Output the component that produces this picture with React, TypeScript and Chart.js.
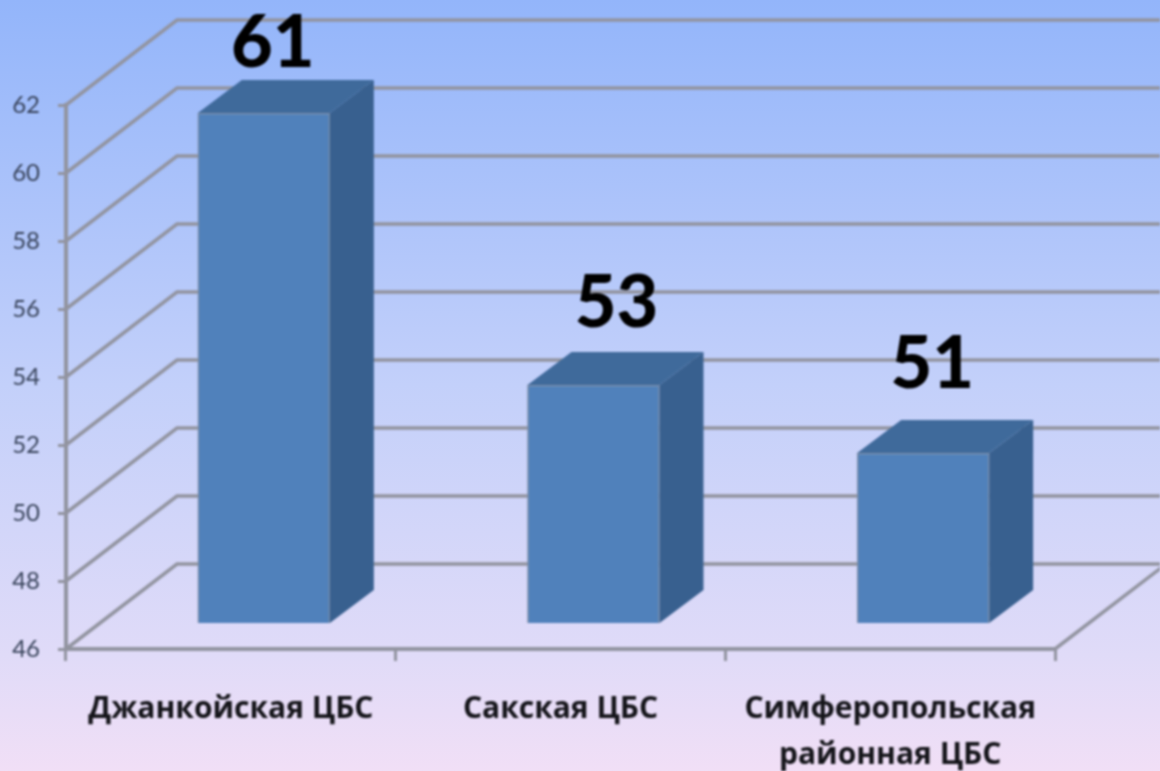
import React, { useEffect, useRef } from "react";
import { Chart, registerables } from "chart.js";

Chart.register(...registerables);

const categories: (string | string[])[] = [
  "Джанкойская ЦБС",
  "Сакская ЦБС",
  ["Симферопольская", "районная ЦБС"],
];
const values = [61, 53, 51];
const yMin = 46;
const yMax = 62;
const yStep = 2;

const labelNudgeX = [42, 56, 42];
const labelNudgeY = [-72, -84, -91];

const GRID = "#9294a0";
const BACK_DX = 111;
const BACK_DY = -85;
const BAR_DX = 33;
const BAR_DY = -26;
const SIDE_DX = 44;
const SIDE_DY = -33;

const threeD = {
  id: "threeD",
  beforeDatasetsDraw(chart: any) {
    const { ctx, chartArea, scales } = chart;
    const y = scales.y;
    ctx.save();
    ctx.lineCap = "round";
    ctx.strokeStyle = GRID;
    ctx.lineWidth = 3.5;
    y.ticks.forEach((t: any) => {
      const py = y.getPixelForValue(t.value);
      ctx.beginPath();
      ctx.moveTo(chartArea.left, py);
      ctx.lineTo(chartArea.left + BACK_DX, py + BACK_DY);
      ctx.lineTo(chart.width + 10, py + BACK_DY);
      ctx.stroke();
    });
    ctx.beginPath();
    ctx.moveTo(chartArea.right, chartArea.bottom);
    ctx.lineTo(chartArea.right + BACK_DX, chartArea.bottom + BACK_DY);
    ctx.stroke();
    ctx.restore();
    ctx.save();
    ctx.translate(BAR_DX, BAR_DY);
  },
  afterDatasetsDraw(chart: any) {
    const { ctx, scales } = chart;
    const meta = chart.getDatasetMeta(0);
    meta.data.forEach((bar: any) => {
      const hw = bar.width / 2;
      const l = bar.x - hw;
      const r = bar.x + hw;
      const t = bar.y;
      const b = scales.y.getPixelForValue(yMin);
      ctx.fillStyle = "#3f6a9b";
      ctx.beginPath();
      ctx.moveTo(l, t);
      ctx.lineTo(l + SIDE_DX, t + SIDE_DY);
      ctx.lineTo(r + SIDE_DX, t + SIDE_DY);
      ctx.lineTo(r, t);
      ctx.closePath();
      ctx.fill();
      ctx.fillStyle = "#38608f";
      ctx.beginPath();
      ctx.moveTo(r, t);
      ctx.lineTo(r + SIDE_DX, t + SIDE_DY);
      ctx.lineTo(r + SIDE_DX, b + SIDE_DY);
      ctx.lineTo(r, b);
      ctx.closePath();
      ctx.fill();
    });
    ctx.restore();
    ctx.save();
    ctx.fillStyle = "#000000";
    ctx.font = "900 72px Lato";
    ctx.textAlign = "center";
    ctx.textBaseline = "alphabetic";
    meta.data.forEach((bar: any, i: number) => {
      ctx.fillText(String(values[i]), bar.x + labelNudgeX[i], bar.y + labelNudgeY[i]);
    });
    ctx.restore();
  },
};

export default function App() {
  const ref = useRef<HTMLCanvasElement>(null);
  useEffect(() => {
    const chart = new Chart(ref.current!, {
      type: "bar",
      data: {
        labels: categories as any,
        datasets: [
          {
            data: values,
            backgroundColor: "#5081bb",
            borderColor: "#7d8ea8",
            borderWidth: 1.5,
            barThickness: 132,
          },
        ],
      },
      plugins: [threeD],
      options: {
        responsive: false,
        animation: false,
        layout: { padding: { top: 105, right: 105, left: 0, bottom: 0 } },
        plugins: { legend: { display: false }, tooltip: { enabled: false } },
        scales: {
          y: {
            min: yMin,
            max: yMax,
            ticks: {
              stepSize: yStep,
              color: "#38435a",
              padding: 18,
              font: { family: "Lato", size: 24 },
            },
            grid: { drawOnChartArea: false, color: GRID, lineWidth: 3, tickLength: 8 },
            border: { color: GRID, width: 4 },
            afterFit(s: any) {
              s.width = 66;
              s.paddingTop = 0;
              s.paddingBottom = 0;
            },
          },
          x: {
            ticks: {
              color: "#141419",
              padding: 26,
              maxRotation: 0,
              font: { family: "Open Sans", size: 30, weight: "bold", lineHeight: 1.53 },
            },
            grid: { drawOnChartArea: false, color: GRID, lineWidth: 3, tickLength: 12 },
            border: { color: GRID, width: 4 },
            afterFit(s: any) {
              s.height = 122;
              s.paddingLeft = 0;
              s.paddingRight = 0;
            },
          },
        },
      } as any,
    });
    return () => chart.destroy();
  }, []);
  return (
    <div
      style={{
        position: "fixed",
        inset: 0,
        overflow: "hidden",
        background: "linear-gradient(180deg, #93b5fa 0%, #c3d0fa 50%, #e0dbf8 85%, #f1dff6 100%)",
      }}
    >
      <canvas
        ref={ref}
        width={1160}
        height={771}
        style={{ display: "block", width: 1160, height: 771, filter: "blur(0.8px)" }}
      />
    </div>
  );
}
